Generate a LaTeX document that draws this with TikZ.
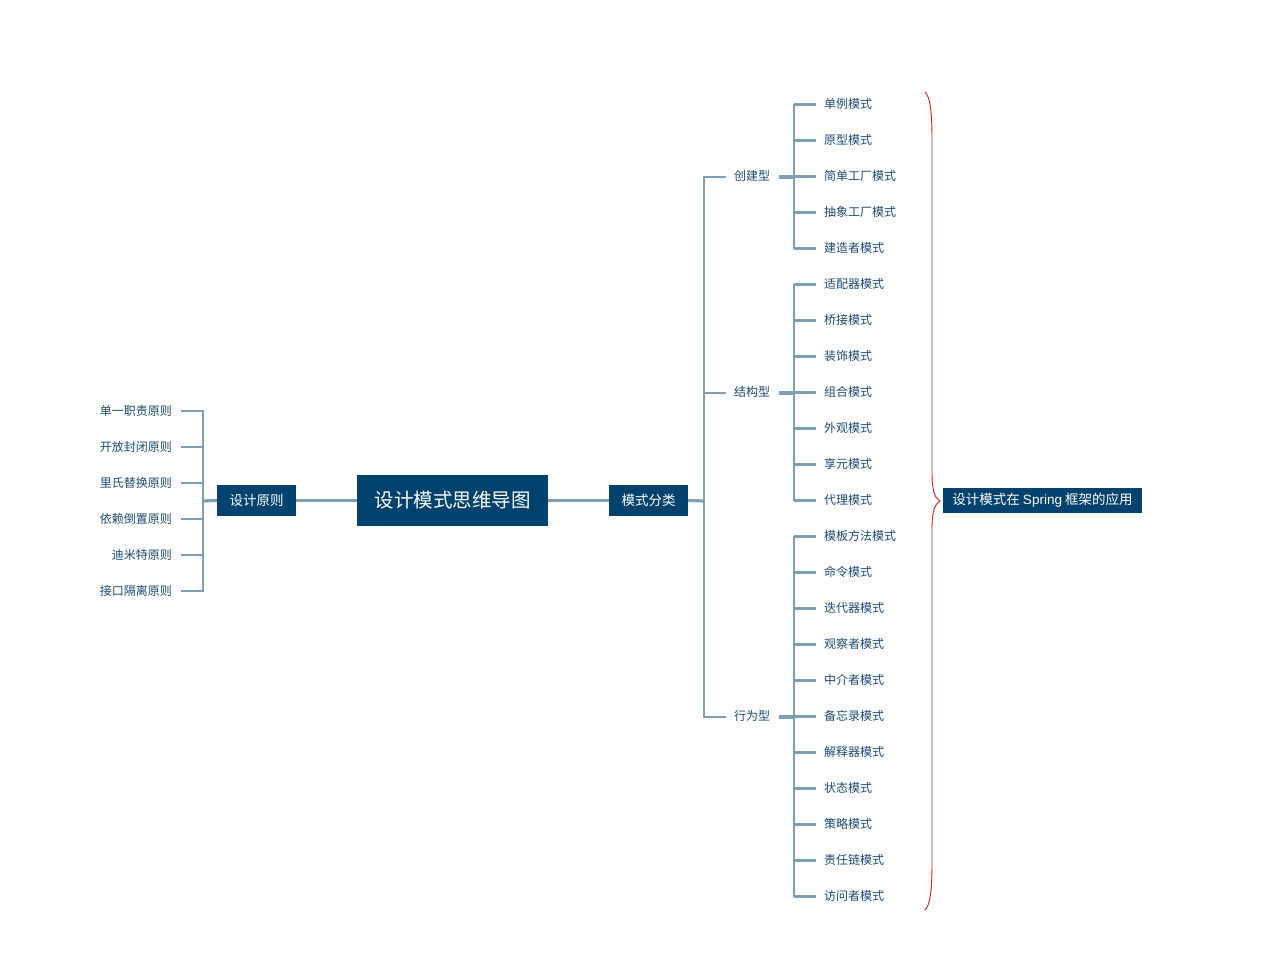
\documentclass[tikz,border=0pt]{standalone}
\usepackage{fontspec}
\newfontfamily\cjk{Noto Sans CJK SC}
\newfontfamily\lat{Liberation Sans}
\definecolor{nodeblue}{HTML}{02426F}
\definecolor{linec}{HTML}{7F9FB5}
\definecolor{labc}{HTML}{1D4A72}
\definecolor{bracered}{HTML}{C8202A}
\begin{document}
\begin{tikzpicture}[x=1pt,y=-1pt,
 box/.style={fill=nodeblue,text=white,inner sep=0pt,font=\cjk\fontsize{13.5}{14}\selectfont},
 leaf/.style={text=labc,inner sep=0pt,font=\cjk\fontsize{12}{12}\selectfont},
 conn/.style={draw=linec,line width=2.2pt},
 stub/.style={draw=linec,line width=3.2pt},
 bracestyle/.style={draw=bracered,line width=0.9pt}]
\useasboundingbox (0,0) rectangle (1270,958);
% main nodes
\node[box,minimum width=191,minimum height=51,font=\cjk\fontsize{19.5}{20}\selectfont] (root) at (452.5,500.5) {设计模式思维导图};
\node[box,minimum width=79,minimum height=31] (dp) at (256.5,500.5) {设计原则};
\node[box,minimum width=79,minimum height=31] (mc) at (648.5,500.5) {模式分类};
\node[box,minimum width=199,minimum height=25] (sp) at (1042.5,500.5) {设计模式在 {\lat Spring} 框架的应用};
\draw[conn] (dp) -- (root);
\draw[conn] (root) -- (mc);
% left: design principles
\coordinate (lbus) at (203,501);
\draw[stub] (dp.west) -- (lbus);
\draw[conn] (203,410) -- (203,592);
\foreach \t [count=\i] in {单一职责原则,开放封闭原则,里氏替换原则,依赖倒置原则,迪米特原则,接口隔离原则} {
  \node[leaf,anchor=east] (p\i) at (172,374.5+36*\i) {\t};
  \draw[conn] ([xshift=9pt,yshift=-0.5pt]p\i.east) -- (203,375+36*\i);
}
% right: pattern classes
\coordinate (rbus) at (704,501);
\draw[stub] (mc.east) -- (rbus);
\draw[conn] (704,176) -- (704,718);
\foreach \t/\y [count=\i] in {创建型/177,结构型/393,行为型/717} {
  \node[leaf,anchor=west] (g\i) at (734,\y-1) {\t};
  \draw[conn] (704,\y) -- ([xshift=-8pt,yshift=-1pt]g\i.west);
  \draw[stub] ([xshift=9pt,yshift=-1pt]g\i.east) -- (794,\y);
}
\draw[conn] (794,104) -- (794,249);
\draw[conn] (794,284) -- (794,501);
\draw[conn] (794,536) -- (794,897);
\foreach \t [count=\i] in {单例模式,原型模式,简单工厂模式,抽象工厂模式,建造者模式,适配器模式,桥接模式,装饰模式,组合模式,外观模式,享元模式,代理模式,模板方法模式,命令模式,迭代器模式,观察者模式,中介者模式,备忘录模式,解释器模式,状态模式,策略模式,责任链模式,访问者模式} {
  \node[leaf,anchor=west] (r\i) at (824,67.5+36*\i) {\t};
  \draw[conn] (794,68.5+36*\i) -- ([xshift=-8pt,yshift=-1pt]r\i.west);
}
% summary brace
\draw[bracestyle] (925,92) .. controls (930,97) and (932,110) .. (932,140) -- (932,472)
  .. controls (932,492) and (935,498) .. (940,501)
  .. controls (935,504) and (932,510) .. (932,530) -- (932,862)
  .. controls (932,892) and (930,905) .. (925,910);
\end{tikzpicture}
\end{document}
